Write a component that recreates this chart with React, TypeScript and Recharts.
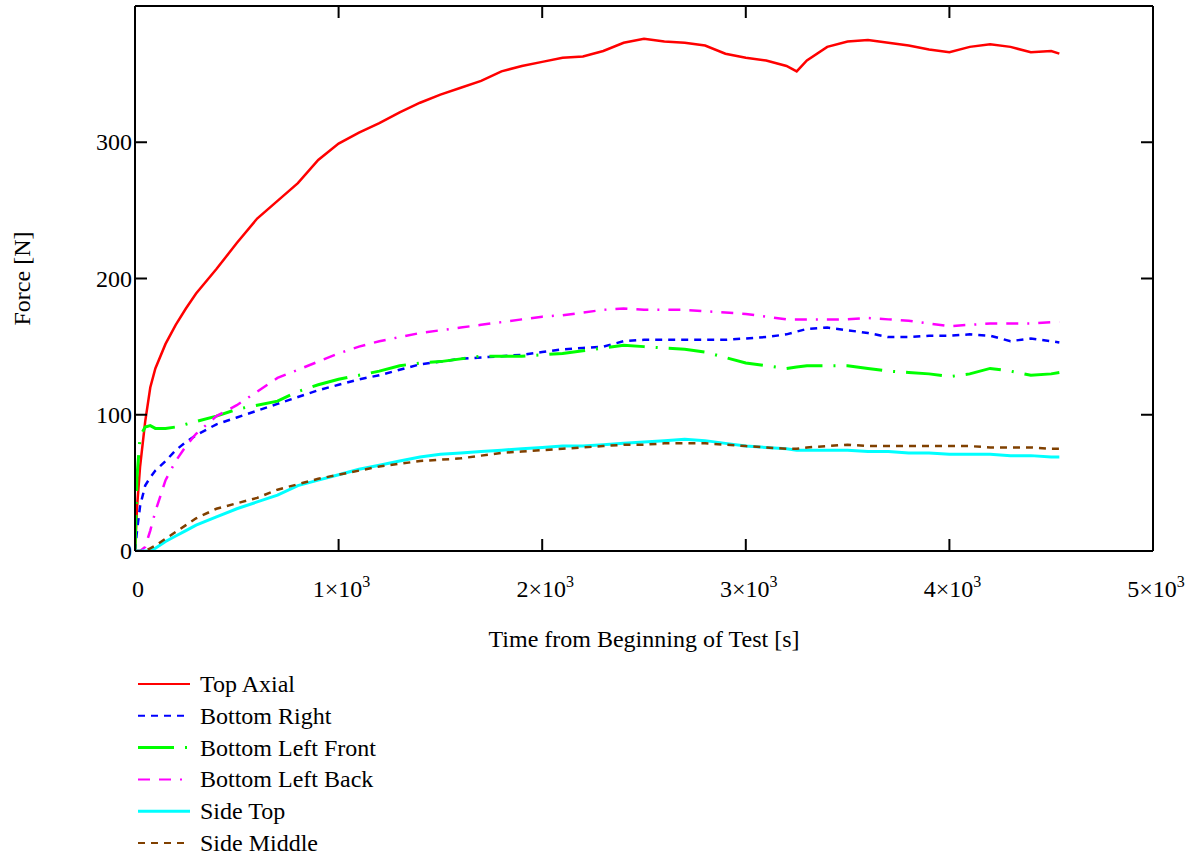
import { LineChart, Line, XAxis, YAxis, Legend } from 'recharts'

// sample times [s]
const times = [
  0, 10, 25, 50, 75, 100, 150, 200, 250, 300, 400, 500, 600, 700, 800, 900, 1000,
  1100, 1200, 1300, 1400, 1500, 1600, 1700, 1800, 1900, 2000, 2100, 2200, 2300, 2400,
  2500, 2600, 2700, 2800, 2900, 3000, 3100, 3200, 3250, 3300, 3400, 3500, 3600, 3700,
  3800, 3900, 4000, 4100, 4200, 4300, 4400, 4500, 4540,
]

// forces [N]
const topAxial = [
  0, 32, 62, 95, 120, 134, 152, 166, 178, 189, 207, 226, 244, 257, 270, 287, 299,
  307, 314, 322, 329, 335, 340, 345, 352, 356, 359, 362, 363, 367, 373,
  376, 374, 373, 371, 365, 362, 360, 356, 352, 360, 370, 374, 375, 373,
  371, 368, 366, 370, 372, 370, 366, 367, 365,
]
const bottomRight = [
  0, 15, 33, 48, 54, 59, 66, 74, 80, 85, 93, 98, 103, 108, 113, 118, 122,
  126, 129, 133, 137, 139, 141, 142, 143, 144, 146, 148, 149, 150, 154,
  155, 155, 155, 155, 155, 156, 157, 159, 161, 163, 164, 162, 160, 157,
  157, 158, 158, 159, 158, 154, 156, 154, 153,
]
const bottomLeftFront = [
  0, 55, 84, 91, 92, 90, 90, 91, 93, 95, 99, 104, 107, 110, 117, 122, 126,
  129, 132, 136, 138, 139, 141, 143, 143, 143, 144, 145, 147, 149, 151,
  150, 149, 148, 146, 142, 138, 136, 134, 135, 136, 136, 136, 134, 132,
  131, 130, 128, 130, 134, 132, 129, 130, 131,
]
const bottomLeftBack = [
  0, 0, 0, 3, 15, 29, 52, 66, 77, 86, 99, 107, 117, 127, 133, 139, 145,
  150, 154, 157, 160, 162, 164, 166, 168, 170, 172, 173, 175, 177, 178,
  177, 177, 177, 176, 175, 174, 172, 170, 170, 170, 170, 170, 171, 170,
  169, 167, 165, 166, 167, 167, 167, 168, 168,
]
const sideTop = [
  0, 0, 0, 0, 0, 2, 7, 11, 15, 19, 25, 31, 36, 41, 48, 52, 56,
  60, 63, 66, 69, 71, 72, 73, 74, 75, 76, 77, 77, 78, 79,
  80, 81, 82, 81, 79, 77, 76, 75, 74, 74, 74, 74, 73, 73,
  72, 72, 71, 71, 71, 70, 70, 69, 69,
]
const sideMiddle = [
  0, 0, 0, 0, 2, 4, 9, 14, 19, 24, 31, 35, 39, 45, 49, 53, 56,
  59, 62, 64, 66, 67, 68, 70, 72, 73, 74, 75, 76, 77, 78,
  78, 79, 79, 79, 78, 77, 76, 75, 75, 76, 77, 78, 77, 77,
  77, 77, 77, 77, 76, 76, 76, 75, 75,
]

const xTicks = [0, 1000, 2000, 3000, 4000, 5000]
const yTicks = [0, 100, 200, 300, 400]

const series = [
  { key: 'topAxial', name: 'Top Axial', color: '#ff0000', dash: undefined, width: 2.5 },
  { key: 'bottomRight', name: 'Bottom Right', color: '#0000ff', dash: '7 6', width: 2.5 },
  { key: 'bottomLeftFront', name: 'Bottom Left Front', color: '#00ff00', dash: '36 11 2 11', width: 3 },
  { key: 'bottomLeftBack', name: 'Bottom Left Back', color: '#ff00ff', dash: '12 9 12 9 2 9', width: 2.5 },
  { key: 'sideTop', name: 'Side Top', color: '#00ffff', dash: undefined, width: 3 },
  { key: 'sideMiddle', name: 'Side Middle', color: '#804000', dash: '7 6', width: 2.5 },
]

const data = times.map((t, i) => ({
  t,
  topAxial: topAxial[i],
  bottomRight: bottomRight[i],
  bottomLeftFront: bottomLeftFront[i],
  bottomLeftBack: bottomLeftBack[i],
  sideTop: sideTop[i],
  sideMiddle: sideMiddle[i],
}))

const FONT = '"Liberation Serif", "Times New Roman", serif'
const FS = 24
const axisLine = { stroke: '#000', strokeWidth: 2 }

const BottomTick = (props: any) => {
  const { x, y, payload } = props
  const v = payload.value
  const inner = v > 0 && v < 5000
  return (
    <g>
      {inner && <line x1={x} x2={x} y1={y} y2={y - 12} stroke="#000" strokeWidth={2} />}
      <text x={x + 3} y={y + 46} textAnchor="middle" fontFamily={FONT} fontSize={FS} fill="#000">
        {v === 0 ? '0' : (
          <>
            {`${v / 1000}×10`}
            <tspan dy={-10} fontSize={16}>3</tspan>
          </>
        )}
      </text>
    </g>
  )
}

const TopTick = (props: any) => {
  const { x, y, payload } = props
  const v = payload.value
  if (v <= 0 || v >= 5000) return <g />
  return <line x1={x} x2={x} y1={y} y2={y + 12} stroke="#000" strokeWidth={2} />
}

const LeftTick = (props: any) => {
  const { x, y, payload } = props
  const v = payload.value
  const inner = v > 0 && v < 400
  return (
    <g>
      {inner && <line x1={x} x2={x + 12} y1={y} y2={y} stroke="#000" strokeWidth={2} />}
      {v < 400 && (
        <text x={x - 3} y={y + 8} textAnchor="end" fontFamily={FONT} fontSize={FS} fill="#000">
          {v}
        </text>
      )}
    </g>
  )
}

const RightTick = (props: any) => {
  const { x, y, payload } = props
  const v = payload.value
  if (v <= 0 || v >= 400) return <g />
  return <line x1={x} x2={x - 12} y1={y} y2={y} stroke="#000" strokeWidth={2} />
}

const XLabel = (props: any) => {
  const vb = props.viewBox
  return (
    <text x={vb.x + vb.width / 2} y={vb.y + 96} textAnchor="middle" fontFamily={FONT} fontSize={FS} fill="#000">
      Time from Beginning of Test [s]
    </text>
  )
}

const YLabel = (props: any) => {
  const vb = props.viewBox
  const cx = vb.x - 45
  const cy = vb.y + vb.height / 2
  return (
    <text
      x={cx}
      y={cy}
      transform={`rotate(-90, ${cx}, ${cy})`}
      textAnchor="middle"
      fontFamily={FONT}
      fontSize={FS}
      fill="#000"
    >
      Force [N]
    </text>
  )
}

const LegendBox = () => (
  <svg width={320} height={190} style={{ display: 'block' }}>
    {series.map((s, i) => {
      const cy = 16 + i * 31.8
      return (
        <g key={s.key}>
          <line
            x1={8}
            x2={60}
            y1={cy}
            y2={cy}
            stroke={s.color}
            strokeWidth={s.width > 2.5 ? 3 : 2}
            strokeDasharray={s.dash}
          />
          <text x={70} y={cy + 8} fontFamily={FONT} fontSize={FS} fill="#000">
            {s.name}
          </text>
        </g>
      )
    })}
  </svg>
)

export default function App() {
  return (
    <div style={{ position: 'absolute', left: 0, top: 0, background: '#fff' }}>
      <LineChart
        width={1197}
        height={858}
        data={data}
        margin={{ top: 5, right: 40, left: 75, bottom: 247 }}
      >
        <XAxis
          xAxisId="bottom"
          dataKey="t"
          type="number"
          domain={[0, 5000]}
          ticks={xTicks}
          interval={0}
          height={60}
          tickSize={0}
          tickMargin={0}
          tickLine={false}
          axisLine={axisLine}
          tick={BottomTick}
          allowDataOverflow
          label={<XLabel />}
        />
        <XAxis
          xAxisId="top"
          orientation="top"
          dataKey="t"
          type="number"
          domain={[0, 5000]}
          ticks={xTicks}
          interval={0}
          height={1}
          tickSize={0}
          tickMargin={0}
          tickLine={false}
          axisLine={axisLine}
          tick={TopTick}
          allowDataOverflow
        />
        <YAxis
          yAxisId="left"
          type="number"
          domain={[0, 400]}
          ticks={yTicks}
          interval={0}
          width={60}
          tickSize={0}
          tickMargin={0}
          tickLine={false}
          axisLine={axisLine}
          tick={LeftTick}
          allowDataOverflow
          label={<YLabel />}
        />
        <YAxis
          yAxisId="right"
          orientation="right"
          type="number"
          domain={[0, 400]}
          ticks={yTicks}
          interval={0}
          width={4}
          tickSize={0}
          tickMargin={0}
          tickLine={false}
          axisLine={axisLine}
          tick={RightTick}
          allowDataOverflow
        />
        <Legend
          layout="vertical"
          align="center"
          verticalAlign="middle"
          content={<LegendBox />}
          wrapperStyle={{ position: 'absolute', left: 130, top: 668, width: 320, height: 190 }}
        />
        {series.map((s) => (
          <Line
            key={s.key}
            xAxisId="bottom"
            yAxisId="left"
            dataKey={s.key}
            name={s.name}
            type="linear"
            stroke={s.color}
            strokeWidth={s.width}
            strokeDasharray={s.dash}
            dot={false}
            activeDot={false}
            isAnimationActive={false}
          />
        ))}
      </LineChart>
    </div>
  )
}
